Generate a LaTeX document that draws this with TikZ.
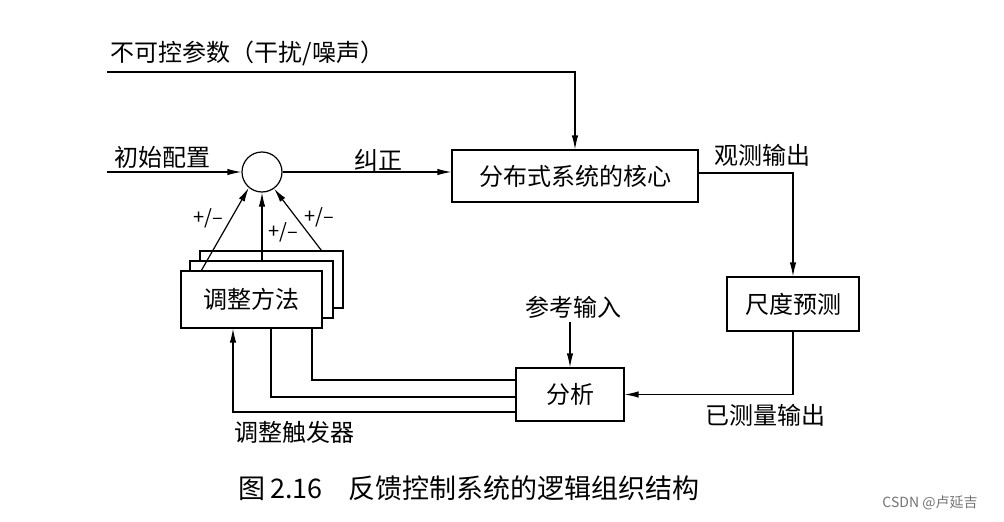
\documentclass[tikz,border=0pt]{standalone}
\usepackage{fontspec}
\newfontfamily\cjk{Noto Sans CJK SC}
\usetikzlibrary{arrows.meta}
\begin{document}
\begin{tikzpicture}[x=1pt,y=-1pt, line width=1.2pt,
  >={Latex[length=14pt,width=6.5pt]},
  box/.style={draw, fill=white, inner sep=0pt, font=\cjk\fontsize{24}{28}\selectfont},
  lbl/.style={font=\cjk\fontsize{24}{28}\selectfont, inner sep=0pt},
  pm/.style={font=\cjk\fontsize{20}{22}\selectfont, inner sep=0pt}]
\useasboundingbox (0,0) rectangle (1004,522);

% boxes
\node[box, minimum width=246pt, minimum height=52pt] (core) at (575,176) {分布式系统的核心};
\node[box, minimum width=132pt, minimum height=54pt] (scale) at (793,304) {尺度预测};
\node[box, minimum width=108pt, minimum height=53pt] (anal) at (570,394.5) {分析};
\node[box, minimum width=143pt, minimum height=57pt] (adj3) at (271.5,279.5) {};
\node[box, minimum width=143pt, minimum height=57pt] (adj2) at (261.5,289.5) {};
\node[box, minimum width=141pt, minimum height=57pt] (adj1) at (251.5,299.5) {调整方法};
\node[draw, circle, minimum size=40pt, inner sep=0pt] (sum) at (262,172) {};

% free ends
\coordinate (n0) at (107,72);
\coordinate (i0) at (107,172);
\coordinate (r0) at (570,322);

% connectors
\draw[->] (n0) -| (core.north);
\draw[->] (i0) -- (sum.west);
\draw[->] (sum.east) -- (sum.east -| core.west);
\draw[->] (core.east |- 0,173) -| (scale.north);
\draw[->] (scale.south) |- (anal.east);
\draw[->] (r0) -- (anal.north);

\draw[->] ([xshift=21pt]adj1.north west) -- (sum.230);
\draw[->] (adj2.north -| sum.south) -- (sum.south);
\draw[->] ([xshift=122pt]adj3.north west) -- (sum.-54);

\draw ([xshift=60.5pt]adj1.south) |- ([yshift=14.5pt]anal.west);
\draw ([xshift=19.5pt]adj1.south) |- ([yshift=-2.5pt]anal.west);
\draw[->] ([yshift=-17.5pt]anal.west) -| ([xshift=-18.5pt]adj1.south);

% labels
\node[lbl, anchor=west] (lnoise) at (110,53) {不可控参数（干扰/噪声）};
\node[lbl] (linit) at (162,157) {初始配置};
\node[lbl] (lcorr) at (378,160) {纠正};
\node[lbl] (lobs) at (762,155) {观测输出};
\node[lbl] (lref) at (573,307) {参考输入};
\node[lbl] (lmeas) at (765,415) {已测量输出};
\node[lbl] (ltrig) at (294,432) {调整触发器};
\node[pm] (pm1) at (208,218) {+/–};
\node[pm] (pm2) at (283,232) {+/–};
\node[pm] (pm3) at (319,217) {+/–};

% caption
\node[font=\cjk\fontsize{27}{31}\selectfont, inner sep=0pt, anchor=west] (cap) at (238,488) {图\,2.16\hspace{26pt}反馈控制系统的逻辑组织结构};
\node[font=\cjk\fontsize{14}{16}\selectfont, text=black!55, inner sep=0pt] (wm) at (930,503) {CSDN @卢延吉};
\end{tikzpicture}
\end{document}
